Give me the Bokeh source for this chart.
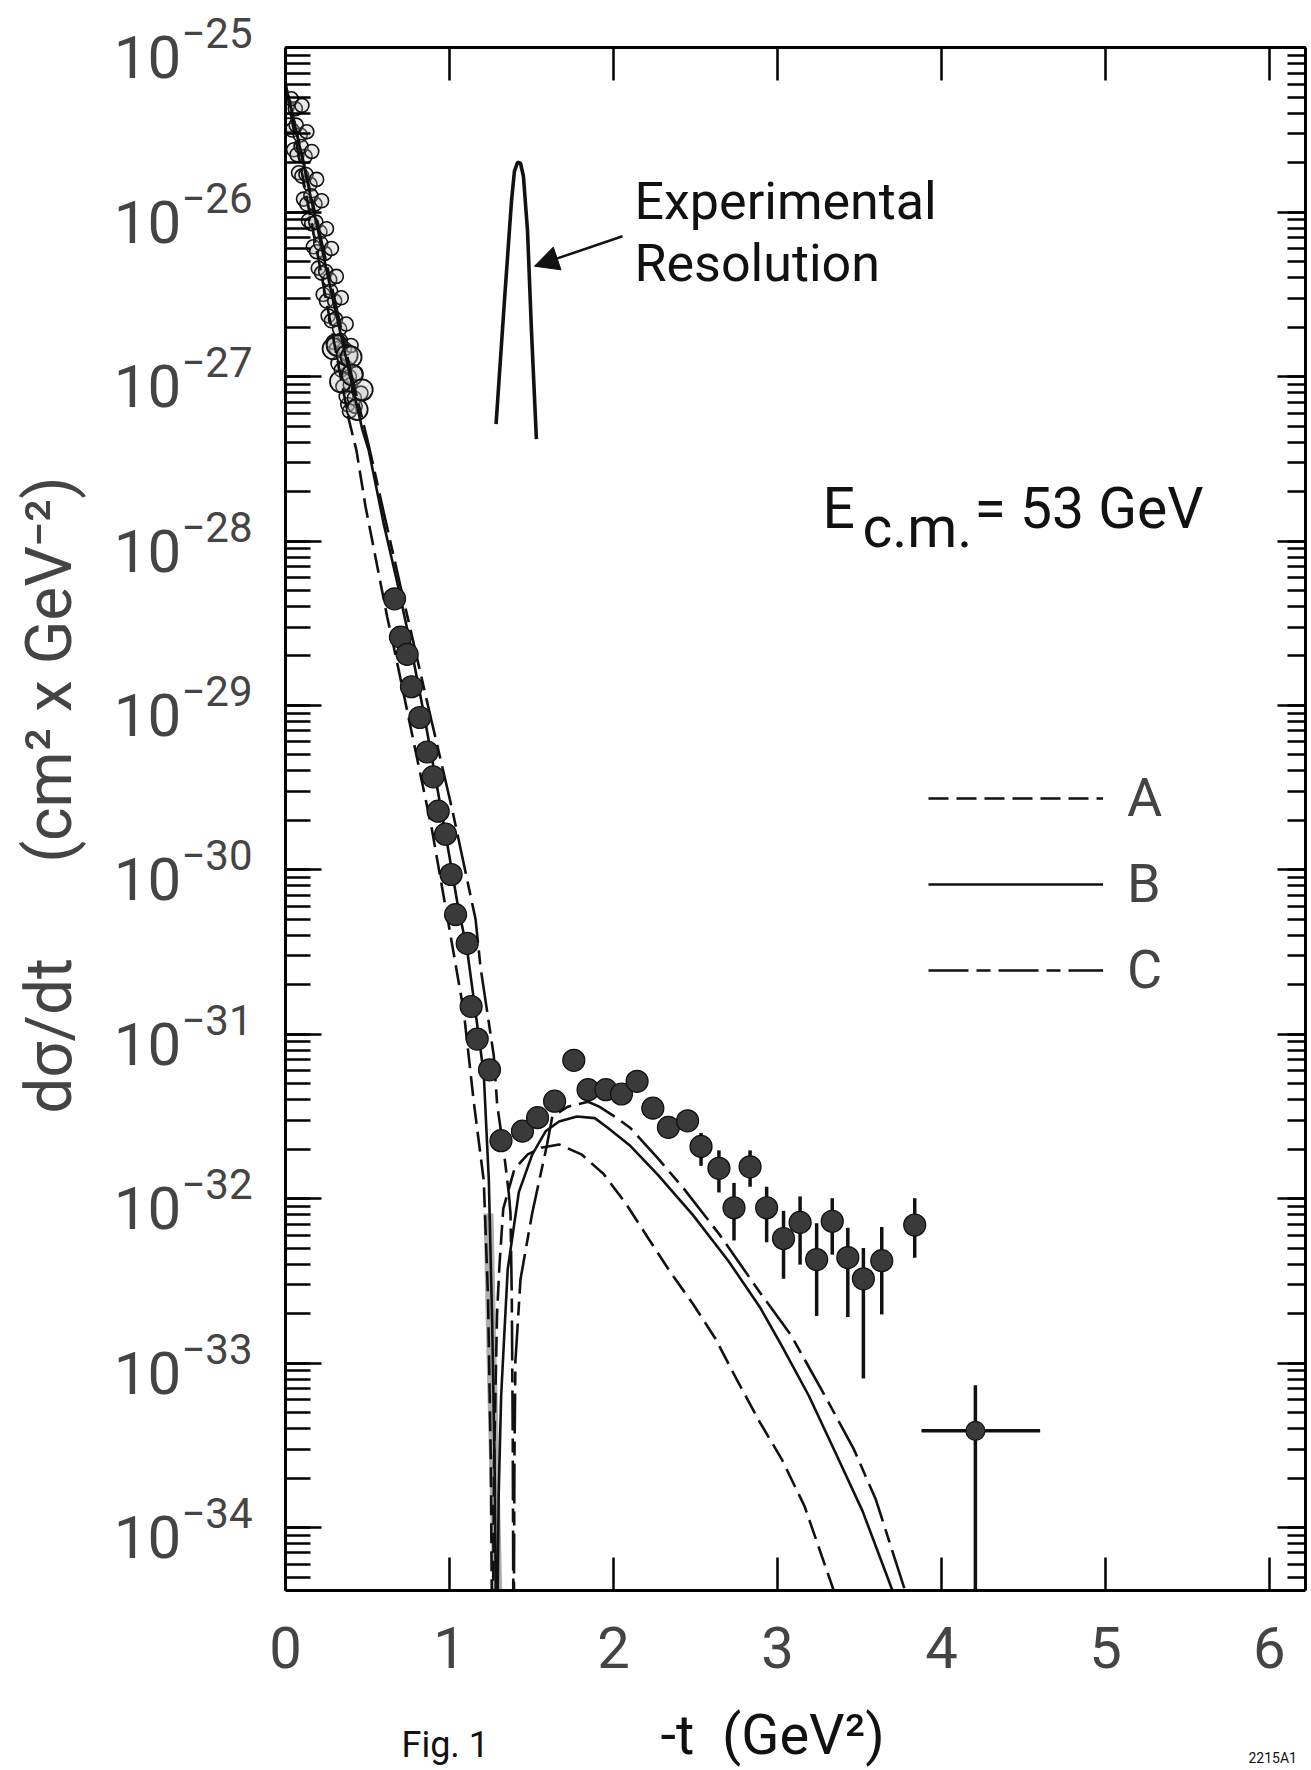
from bokeh.plotting import figure
from bokeh.layouts import column
from bokeh.models import (LogAxis, LinearAxis, LogTicker, FixedTicker, CustomJSTickFormatter,
                          Label, Arrow, NormalHead, Legend, LegendItem)
from bokeh.embed import file_html
from bokeh.resources import INLINE

FONT = "Roboto"

# ---------------- data (y given as log10) ----------------
x_ticks = [0, 1, 2, 3, 4, 5, 6]

# open circles at small -t (overlapping sets from several experiments + larger circles)
open1_t = [0.10, 0.13, 0.16, 0.19, 0.22, 0.25, 0.28, 0.31, 0.34, 0.37, 0.40, 0.43, 0.46]
open1_lg = [-25.35, -25.51, -25.63, -25.80, -25.93, -26.10, -26.22, -26.39, -26.52, -26.68, -26.81, -26.98, -27.10]
open2_t = [0.06, 0.09, 0.12, 0.15, 0.18, 0.21, 0.24, 0.27, 0.30, 0.33, 0.36, 0.39, 0.42]
open2_lg = [-25.37, -25.53, -25.66, -25.83, -25.95, -26.12, -26.25, -26.41, -26.54, -26.71, -26.83, -27.00, -27.13]
open3_t = [0.01, 0.04, 0.07, 0.10, 0.13, 0.16, 0.19, 0.22, 0.25, 0.28, 0.31, 0.34, 0.37, 0.39]
open3_lg = [-25.36, -25.50, -25.65, -25.78, -25.95, -26.07, -26.24, -26.37, -26.54, -26.66, -26.83, -26.96,
            -27.12, -27.21]
open4_t = [0.035, 0.065, 0.095, 0.125, 0.155, 0.185, 0.215, 0.245, 0.275, 0.305, 0.335, 0.365, 0.395, 0.425]
open4_lg = [-25.31, -25.47, -25.60, -25.77, -25.90, -26.06, -26.19, -26.36, -26.48, -26.65, -26.78, -26.94,
            -27.05, -27.18]
open5_t = [0.02, 0.05, 0.08, 0.11, 0.14, 0.17, 0.20, 0.23, 0.26, 0.29, 0.32, 0.35, 0.38]
open5_lg = [-25.47, -25.62, -25.76, -25.92, -26.05, -26.21, -26.34, -26.50, -26.63, -26.79, -26.92, -27.06, -27.17]
big_t = [0.29, 0.315, 0.335, 0.376, 0.40, 0.407, 0.437, 0.468]
big_lg = [-26.83, -26.81, -27.03, -26.87, -26.88, -26.99, -27.20, -27.08]

# filled circles
filled_t = [0.665, 0.701, 0.742, 0.768, 0.819, 0.864, 0.900, 0.931, 0.976, 1.010, 1.037, 1.108, 1.132, 1.169,
            1.244, 1.314, 1.445, 1.537, 1.641, 1.758, 1.845, 1.954, 2.049, 2.144, 2.240, 2.335, 2.452, 2.534,
            2.643, 2.735, 2.833, 2.934, 3.037, 3.138, 3.239, 3.334, 3.429, 3.524, 3.636, 3.837]
filled_lg = [-28.351, -28.584, -28.689, -28.886, -29.073, -29.283, -29.434, -29.643, -29.783, -30.028, -30.272,
             -30.447, -30.831, -31.029, -31.216, -31.647, -31.589, -31.507, -31.407, -31.158, -31.337, -31.337,
             -31.363, -31.286, -31.449, -31.566, -31.526, -31.682, -31.815, -32.055, -31.806, -32.055, -32.242,
             -32.144, -32.370, -32.137, -32.358, -32.487, -32.377, -32.160]
err_t = [2.534, 2.643, 2.735, 2.833, 2.934, 3.037, 3.138, 3.239, 3.334, 3.429, 3.524, 3.636, 3.837]
err_hi_lg = [-31.60, -31.706, -31.904, -31.706, -31.927, -32.074, -31.986, -32.149, -31.997, -32.177, -32.300,
             -32.172, -31.997]
err_lo_lg = [-31.80, -31.962, -32.254, -31.927, -32.265, -32.487, -32.401, -32.713, -32.340, -32.720, -33.093,
             -32.704, -32.359]

# wide-bin point near -t = 4.2
last_t = [4.207]
last_lg = [-33.412]
last_hi_lg = [-33.135]
last_lo_lg = [-35.0]
last_t_lo = [3.878]
last_t_hi = [4.602]

# dense measurements in the dip (grey band)
dip_t = [1.238, 1.255, 1.272, 1.293]
dip_lg = [-32.09, -32.90, -33.60, -34.45]

# model curves
A_t = [0.0, 0.10, 0.20, 0.30, 0.386, 0.433, 0.488, 0.620, 0.681, 0.894, 1.026, 1.087, 1.148, 1.209, 1.235,
       1.252, 1.262, 1.272, 1.290, 1.305, 1.328, 1.396, 1.477, 1.559, 1.668, 1.804, 1.940, 2.076, 2.212, 2.349,
       2.485, 2.621, 2.757, 2.893, 3.029, 3.165, 3.342, 3.40]
A_lg = [-25.23, -25.76, -26.28, -26.81, -27.26, -27.45, -27.79, -28.46, -28.74, -29.76, -30.51, -30.86, -31.41,
        -31.89, -32.60, -33.60, -35.0, -33.60, -32.70, -32.40, -32.06, -31.82, -31.73, -31.69, -31.67, -31.73,
        -31.85, -32.03, -32.24, -32.45, -32.64, -32.85, -33.11, -33.36, -33.59, -33.87, -34.38, -34.55]
B_t = [0.0, 0.10, 0.20, 0.30, 0.40, 0.468, 0.508, 0.559, 0.60, 0.681, 0.76, 0.84, 0.92, 1.00, 1.05, 1.108, 1.15,
       1.209, 1.240, 1.260, 1.275, 1.288, 1.300, 1.315, 1.333, 1.355, 1.423, 1.505, 1.586, 1.668, 1.777, 1.886,
       1.967, 2.104, 2.267, 2.485, 2.702, 2.893, 3.029, 3.192, 3.356, 3.519, 3.70, 3.76]
B_lg = [-25.22, -25.66, -26.12, -26.58, -27.02, -27.32, -27.45, -27.70, -27.90, -28.25, -28.62, -29.03, -29.47,
        -29.92, -30.21, -30.49, -30.80, -31.24, -31.89, -32.74, -33.60, -35.0, -33.80, -33.20, -32.85, -32.43,
        -31.96, -31.73, -31.59, -31.53, -31.50, -31.51, -31.57, -31.68, -31.85, -32.10, -32.38, -32.66, -32.90,
        -33.20, -33.55, -33.90, -34.38, -34.55]
C_t = [0.0, 0.10, 0.20, 0.30, 0.40, 0.508, 0.60, 0.70, 0.864, 1.016, 1.159, 1.189, 1.270, 1.291, 1.330, 1.362,
       1.372, 1.380, 1.386, 1.391, 1.396, 1.402, 1.433, 1.504, 1.595, 1.627, 1.722, 1.845, 1.913, 2.022, 2.103,
       2.267, 2.430, 2.648, 2.893, 3.083, 3.301, 3.464, 3.600, 3.777, 3.83]
C_lg = [-25.22, -25.65, -26.09, -26.53, -26.98, -27.42, -27.83, -28.27, -28.98, -29.63, -30.30, -30.59, -31.13,
        -31.43, -31.70, -31.97, -32.09, -32.60, -33.50, -35.0, -33.60, -32.99, -32.49, -32.09, -31.67, -31.50,
        -31.44, -31.41, -31.44, -31.51, -31.57, -31.75, -31.94, -32.22, -32.57, -32.83, -33.22, -33.52, -33.83,
        -34.38, -34.55]

# experimental resolution peak and its arrow
res_t = [1.284, 1.335, 1.378, 1.396, 1.415, 1.433, 1.451, 1.476, 1.500, 1.530]
res_lg = [-27.289, -26.541, -25.933, -25.751, -25.696, -25.702, -25.781, -26.116, -26.723, -27.380]
arrow_t = [2.055, 1.518]
arrow_lg = [-26.146, -26.328]


def pw(v):
    return [10.0 ** x for x in v]


ink = "#111111"
LEFT, RIGHT = 285, 5

# ---------------- main figure ----------------
p = figure(width=1310, height=1692, x_range=(0, 6.22), y_range=(10 ** -34.383, 1.005e-25),
           y_axis_type="log", output_backend="svg", toolbar_location=None,
           min_border_left=LEFT, min_border_right=RIGHT, min_border_top=47, min_border_bottom=102)
p.xgrid.visible = False
p.ygrid.visible = False
p.outline_line_color = None
p.background_fill_color = "white"
p.border_fill_color = "white"

xax = p.xaxis[0]
xax.ticker = FixedTicker(ticks=x_ticks)
xax.major_tick_in = 33
xax.major_tick_out = 0
xax.minor_tick_line_color = None
xax.axis_line_width = 3
xax.major_tick_line_width = 2.5
xax.major_label_text_font = FONT
xax.major_label_text_font_size = "58px"
xax.major_label_standoff = 36

yax = p.yaxis[0]
yax.ticker = LogTicker(num_minor_ticks=10)
yax.major_tick_in = 36
yax.major_tick_out = 0
yax.minor_tick_in = 25
yax.minor_tick_out = 0
yax.axis_line_width = 3
yax.major_tick_line_width = 2.5
yax.minor_tick_line_width = 2.5
yax.major_label_text_font = FONT
yax.major_label_text_font_size = "60px"
yax.major_label_standoff = 33
yax.axis_label = ("\u00a0" * 3) + "d\u03c3/dt" + ("\u00a0" * 6) + "(cm\u00b2 x GeV\u207b\u00b2)"
yax.axis_label_text_font = FONT
yax.axis_label_text_font_size = "64px"
yax.axis_label_text_font_style = "normal"
yax.axis_label_standoff = 24

top = LinearAxis(ticker=FixedTicker(ticks=x_ticks[1:]), formatter=CustomJSTickFormatter(code="return ''"),
                 major_tick_in=33, major_tick_out=0, minor_tick_line_color=None,
                 axis_line_width=3, major_tick_line_width=2.5,
                 major_label_text_font_size="1px", major_label_standoff=0)
p.add_layout(top, "above")
right = LogAxis(ticker=LogTicker(num_minor_ticks=10), formatter=CustomJSTickFormatter(code="return ''"),
                major_tick_in=28, major_tick_out=0, minor_tick_in=18, minor_tick_out=0,
                axis_line_width=3, major_tick_line_width=2.5, minor_tick_line_width=2.5,
                major_label_text_font_size="1px", major_label_standoff=0)
p.add_layout(right, "right")

# ---------------- marks ----------------
for tt, ll in ((open5_t, open5_lg), (open3_t, open3_lg), (open2_t, open2_lg), (open4_t, open4_lg),
               (open1_t, open1_lg)):
    p.scatter(tt, pw(ll), marker="circle", size=14, fill_color="#bdbdbd", fill_alpha=0.3,
              line_color=ink, line_width=1.6)
p.scatter(big_t, pw(big_lg), marker="circle", size=21, fill_color="#bdbdbd", fill_alpha=0.3,
          line_color=ink, line_width=1.8)

p.line(dip_t, pw(dip_lg), line_color="#7a7a7a", line_width=10, line_alpha=0.6)

rA = p.line(A_t, pw(A_lg), line_color=ink, line_width=2.6, line_dash="20 8")
rB = p.line(B_t, pw(B_lg), line_color=ink, line_width=2.6)
rC = p.line(C_t, pw(C_lg), line_color=ink, line_width=2.6, line_dash="40 8 14 8")

p.segment(err_t, pw(err_lo_lg), err_t, pw(err_hi_lg), line_color=ink, line_width=3.5)
p.segment(last_t, pw(last_lo_lg), last_t, pw(last_hi_lg), line_color=ink, line_width=3.5)
p.segment(last_t_lo, pw(last_lg), last_t_hi, pw(last_lg), line_color=ink, line_width=3.5)

p.scatter(filled_t, pw(filled_lg), marker="circle", size=22, fill_color="#3a3a3a", line_color=ink, line_width=1.2)
p.scatter(last_t, pw(last_lg), marker="circle", size=19, fill_color="#3a3a3a", line_color=ink, line_width=1.2)

p.line(res_t, pw(res_lg), line_color=ink, line_width=3.6)
p.add_layout(Arrow(end=NormalHead(size=24, fill_color=ink, line_color=ink),
                   x_start=arrow_t[0], y_start=10 ** arrow_lg[0], x_end=arrow_t[1], y_end=10 ** arrow_lg[1],
                   line_color=ink, line_width=2.5))

legend = Legend(items=[LegendItem(label="A", renderers=[rA]),
                       LegendItem(label="B", renderers=[rB]),
                       LegendItem(label="C", renderers=[rC])],
                location=(643, 589), orientation="vertical", glyph_width=175, glyph_height=20,
                label_standoff=24, spacing=23, padding=0, margin=0,
                label_text_font=FONT, label_text_font_size="54px",
                background_fill_alpha=0, border_line_color=None)
p.add_layout(legend)


def lab(fig, text, x, y, size):
    fig.add_layout(Label(x=x, y=y, x_units="screen", y_units="screen", text=text, text_font=FONT,
                         text_font_size=size, text_baseline="alphabetic", text_align="left",
                         text_color=ink))


lab(p, "Experimental", 349, 1389, "52px")
lab(p, "Resolution", 349, 1327, "52px")
lab(p, "E", 537, 1082, "57px")
lab(p, "c.m.", 577, 1063, "57px")
lab(p, "= 53 GeV", 689, 1082, "57px")

# ---------------- caption strip under the plot (same side borders as the plot) ----------------
cap = figure(width=1310, height=76, x_range=(0, 1), y_range=(0, 1), output_backend="svg",
             toolbar_location=None, x_axis_location=None, y_axis_location=None,
             min_border_left=LEFT, min_border_right=RIGHT, min_border_top=0, min_border_bottom=0)
cap.grid.visible = False
cap.outline_line_color = None
cap.background_fill_color = "white"
cap.border_fill_color = "white"
for fig in (p, cap):
    if "frame_align" in fig.properties():
        fig.frame_align = False
lab(cap, "Fig. 1", 401 - LEFT, 24, "36px")
lab(cap, "-t\u00a0\u00a0(GeV\u00b2)", 660 - LEFT, 34, "56px")
lab(cap, "2215A1", 1248 - LEFT, 11, "14px")

layout = column(p, cap, spacing=0)
open("out.html", "w").write(file_html(layout, INLINE))
